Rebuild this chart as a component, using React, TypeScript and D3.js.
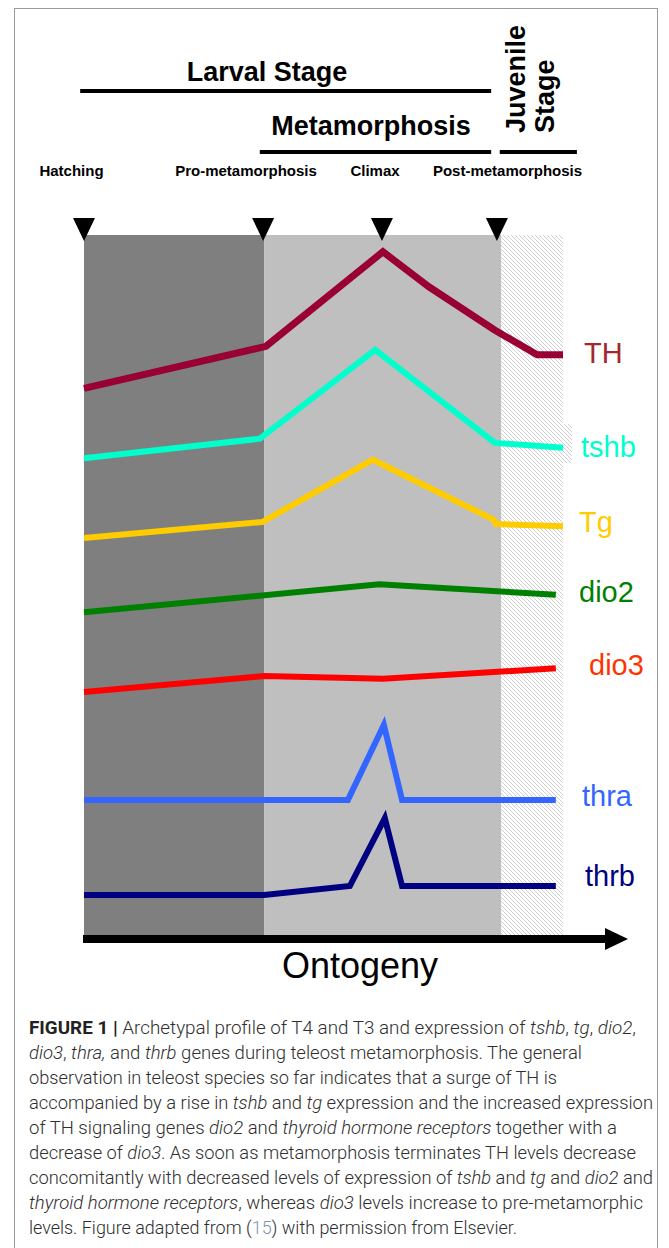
import * as React from 'react';
import * as d3 from 'd3';

// ontogeny time in % of the figure's time axis (hatching = 0, end of juvenile panel = 100)
const stageNames = ['Hatching', 'Pro-metamorphosis', 'Climax', 'Post-metamorphosis'];
const stageTimes = [0, 37.4, 62.2, 86.2];

const phaseNames = ['larval', 'metamorphosis', 'juvenile'];
const phaseStarts = [0, 37.6, 87.1];
const phaseEnds = [37.6, 87.1, 100];

const periodNames = ['Larval Stage', 'Metamorphosis', 'Juvenile'];
const periodStarts = [-0.8, 36.7, 86.8];
const periodEnds = [85, 85, 102.9];

// relative level (0-100 over the plot height)
const genes = ['TH', 'tshb', 'Tg', 'dio2', 'dio3', 'thra', 'thrb'];
const thTimes = [0, 38, 62.4, 72, 85.8, 94.6, 100];
const thLevels = [78.1, 84.1, 97.6, 92.6, 86.4, 82.9, 82.9];
const tshbTimes = [0, 36.7, 60.8, 85.8, 100];
const tshbLevels = [68.1, 70.9, 83.6, 70.3, 69.6];
const tgTimes = [0, 37.2, 60.3, 85.6, 86, 100];
const tgLevels = [56.7, 59, 67.9, 59.3, 58.7, 58.4];
const dio2Times = [0, 61.6, 98.5];
const dio2Levels = [46.1, 50.1, 48.6];
const dio3Times = [0, 37.6, 62.4, 98.5];
const dio3Levels = [34.7, 37, 36.6, 38.1];
const thraTimes = [0, 55.1, 62.6, 66.4, 98.5];
const thraLevels = [19.3, 19.3, 30, 19.3, 19.3];
const thrbTimes = [0, 37.6, 55.5, 62.8, 66.4, 98.5];
const thrbLevels = [5.7, 5.7, 7, 16.7, 7, 7];

const geneTimes = [thTimes, tshbTimes, tgTimes, dio2Times, dio3Times, thraTimes, thrbTimes];
const geneLevels = [thLevels, tshbLevels, tgLevels, dio2Levels, dio3Levels, thraLevels, thrbLevels];

const captionLines = [
  [['FIGURE 1 | ', 'b'], ['Archetypal profile of T4 and T3 and expression of ', ''], ['tshb', 'i'], [', ', ''], ['tg', 'i'], [', ', ''], ['dio2', 'i'], [',', '']],
  [['dio3', 'i'], [', ', ''], ['thra,', 'i'], [' and ', ''], ['thrb', 'i'], [' genes during teleost metamorphosis. The general', '']],
  [['observation in teleost species so far indicates that a surge of TH is', '']],
  [['accompanied by a rise in ', ''], ['tshb', 'i'], [' and ', ''], ['tg', 'i'], [' expression and the increased expression', '']],
  [['of TH signaling genes ', ''], ['dio2', 'i'], [' and ', ''], ['thyroid hormone receptors', 'i'], [' together with a', '']],
  [['decrease of ', ''], ['dio3', 'i'], ['. As soon as metamorphosis terminates TH levels decrease', '']],
  [['concomitantly with decreased levels of expression of ', ''], ['tshb', 'i'], [' and ', ''], ['tg', 'i'], [' and ', ''], ['dio2', 'i'], [' and', '']],
  [['thyroid hormone receptors', 'i'], [', whereas ', ''], ['dio3', 'i'], [' levels increase to pre-metamorphic', '']],
  [['levels. Figure adapted from (', ''], ['15', 'ref'], [') with permission from Elsevier.', '']],
];

// layout
const lineColors = ['#990033', '#00ffcc', '#ffcc00', '#008000', '#ff0000', '#3366ff', '#000080'];
const labelColors = ['#a3282e', '#00ffcc', '#ffcc00', '#008000', '#ff3300', '#3366ff', '#000080'];
const labelX = [584, 581, 579, 579, 589, 582, 585];
const labelY = [363, 457, 532, 602, 675, 806, 886];
const stageLabelX = [71.5, 246, 375, 507.5];
const captionEnds = [636, 582, 557, 653, 617, 636, 653, 643, 517];
const phaseFills = ['#7f7f7f', '#bfbfbf', 'url(#hatch)'];

const W = 669;
const H = 1248;

export default function App() {
  const ref = React.useRef<SVGSVGElement>(null);

  React.useEffect(() => {
    const svg = d3.select(ref.current);
    svg.selectAll('*').remove();

    const x = d3.scaleLinear().domain([0, 100]).range([84, 563]);
    const y = d3.scaleLinear().domain([0, 100]).range([935, 235]);

    const defs = svg.append('defs');
    const pat = defs.append('pattern')
      .attr('id', 'hatch')
      .attr('patternUnits', 'userSpaceOnUse')
      .attr('width', 4)
      .attr('height', 4);
    pat.append('rect').attr('width', 4).attr('height', 4).attr('fill', '#fff');
    pat.append('path')
      .attr('d', 'M-1,-1 L5,5 M-1,3 L1,5 M3,-1 L5,1')
      .attr('stroke', '#cfcfcf')
      .attr('stroke-width', 1);

    // frame
    svg.append('rect')
      .attr('x', 14.5).attr('y', 8.5)
      .attr('width', 643).attr('height', 1260)
      .attr('fill', '#fff')
      .attr('stroke', '#9a9a9a');

    const font = "'Liberation Sans', Arial, sans-serif";

    // period headers
    svg.selectAll('line.period')
      .data(periodNames)
      .enter().append('line')
      .attr('class', 'period')
      .attr('x1', (d, i) => x(periodStarts[i]))
      .attr('x2', (d, i) => x(periodEnds[i]))
      .attr('y1', (d, i) => (i === 0 ? 91 : 152))
      .attr('y2', (d, i) => (i === 0 ? 91 : 152))
      .attr('stroke', '#000')
      .attr('stroke-width', 4);

    svg.append('text')
      .attr('x', 267).attr('y', 81)
      .attr('text-anchor', 'middle')
      .attr('font-family', font).attr('font-weight', 'bold').attr('font-size', 27)
      .text(periodNames[0]);
    svg.append('text')
      .attr('x', 371).attr('y', 135)
      .attr('text-anchor', 'middle')
      .attr('font-family', font).attr('font-weight', 'bold').attr('font-size', 27)
      .text(periodNames[1]);
    svg.append('text')
      .attr('transform', 'translate(524.5,133) rotate(-90)')
      .attr('font-family', font).attr('font-weight', 'bold').attr('font-size', 27)
      .text(periodNames[2]);
    svg.append('text')
      .attr('transform', 'translate(554,133) rotate(-90)')
      .attr('font-family', font).attr('font-weight', 'bold').attr('font-size', 27)
      .text('Stage');

    // stage labels
    svg.selectAll('text.stage')
      .data(stageNames)
      .enter().append('text')
      .attr('class', 'stage')
      .attr('x', (d, i) => stageLabelX[i])
      .attr('y', 176)
      .attr('text-anchor', 'middle')
      .attr('font-family', font).attr('font-weight', 'bold').attr('font-size', 15)
      .text(d => d);

    // phase panels
    svg.selectAll('rect.phase')
      .data(phaseNames)
      .enter().append('rect')
      .attr('class', 'phase')
      .attr('x', (d, i) => x(phaseStarts[i]))
      .attr('width', (d, i) => x(phaseEnds[i]) - x(phaseStarts[i]))
      .attr('y', y(100))
      .attr('height', y(0) - y(100))
      .attr('fill', (d, i) => phaseFills[i]);
    // small hatched patch behind the tshb label
    svg.append('rect')
      .attr('x', x(100)).attr('y', 424)
      .attr('width', 9).attr('height', 39)
      .attr('fill', 'url(#hatch)');

    // stage markers
    svg.selectAll('path.marker')
      .data(stageTimes)
      .enter().append('path')
      .attr('class', 'marker')
      .attr('d', d => `M${x(d) - 11},218 L${x(d) + 11},218 L${x(d)},241 Z`)
      .attr('fill', '#000');

    // gene profiles
    const line = d3.line<[number, number]>()
      .x(d => x(d[0]))
      .y(d => y(d[1]));

    genes.forEach((g, gi) => {
      const pts = geneTimes[gi].map((t, k) => [t, geneLevels[gi][k]] as [number, number]);
      svg.append('path')
        .attr('d', line(pts))
        .attr('fill', 'none')
        .attr('stroke', lineColors[gi])
        .attr('stroke-width', gi === 0 ? 7 : 6)
        .attr('stroke-linejoin', 'miter');
      svg.append('text')
        .attr('x', labelX[gi])
        .attr('y', labelY[gi])
        .attr('font-family', font)
        .attr('font-size', 29)
        .attr('fill', labelColors[gi])
        .text(g);
    });

    // ontogeny axis
    svg.append('rect')
      .attr('x', x(0) - 1).attr('y', 935)
      .attr('width', 606 - x(0) + 1).attr('height', 8)
      .attr('fill', '#000');
    svg.append('path')
      .attr('d', 'M605,928 L628,939 L605,950 Z')
      .attr('fill', '#000');
    svg.append('text')
      .attr('x', 360).attr('y', 978)
      .attr('text-anchor', 'middle')
      .attr('font-family', font).attr('font-size', 36)
      .text('Ontogeny');

    // caption
    const cap = svg.append('g');
    captionLines.forEach((segs, li) => {
      const t = cap.append('text')
        .attr('x', 29)
        .attr('y', 1034 + li * 25)
        .attr('font-family', "Roboto, 'Liberation Sans', sans-serif")
        .attr('font-weight', 300)
        .attr('font-size', 17.5)
        .attr('fill', '#2e2e2e')
        .attr('textLength', captionEnds[li] - 29)
        .attr('lengthAdjust', 'spacingAndGlyphs');
      segs.forEach(([txt, st]) => {
        const sp = t.append('tspan').text(txt);
        if (st === 'b') sp.attr('font-weight', 'bold').attr('fill', '#222');
        if (st === 'i') sp.attr('font-style', 'italic');
        if (st === 'ref') sp.attr('fill', '#8096a8');
      });
    });
  }, []);

  return (
    <svg
      ref={ref}
      width={W}
      height={H}
      style={{ position: 'absolute', left: 0, top: 0, background: '#fff' }}
    />
  );
}
